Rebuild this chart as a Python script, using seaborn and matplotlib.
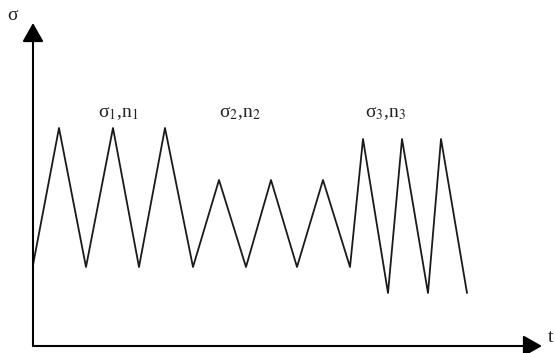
import matplotlib
matplotlib.use("Agg")
import matplotlib.pyplot as plt
import seaborn as sns
import pandas as pd

# Loading history (time t, stress sigma)
t_vals = [0, 26, 53, 80, 106, 132, 160, 186, 213, 238, 264, 290, 317, 330, 355, 369, 395, 408, 434]
sigma_vals = [81, 218, 79, 218, 79, 218, 79, 166, 79, 166, 79, 166, 79, 207, 53, 207, 53, 207, 53]

block_labels = ["σ$_1$,n$_1$", "σ$_2$,n$_2$", "σ$_3$,n$_3$"]
block_label_t = [85, 207, 353]
block_label_sigma = 233

sns.set_style("white")
plt.rcParams["mathtext.fontset"] = "stix"
plt.rcParams["font.family"] = ["Liberation Serif", "DejaVu Serif"]

fig = plt.figure(figsize=(5.55, 3.53), dpi=100)
ax = fig.add_axes([0, 0, 1, 1])
ax.set_xlim(-33, 522)
ax.set_ylim(-7, 346)
ax.axis("off")

df = pd.DataFrame({"t": t_vals, "sigma": sigma_vals})
sns.lineplot(data=df, x="t", y="sigma", sort=False, ax=ax, color="#1a1a1a", lw=1.3)

arrow_style = "-|>,head_length=1.15,head_width=0.65"
ax.annotate("", xy=(0, 323), xytext=(0, 0),
            arrowprops=dict(arrowstyle=arrow_style, mutation_scale=10, color="black",
                            lw=1.5, shrinkA=0, shrinkB=0))
ax.annotate("", xy=(509, 0), xytext=(0, 0),
            arrowprops=dict(arrowstyle=arrow_style, mutation_scale=10, color="black",
                            lw=1.5, shrinkA=0, shrinkB=0))

ax.text(-21, 331, "σ", fontsize=14, ha="center", va="center", color="#222")
ax.text(515, 8, "t", fontsize=14, ha="left", va="center", color="#222")

for lab, tx in zip(block_labels, block_label_t):
    ax.text(tx, block_label_sigma, lab, fontsize=14, ha="center", va="center", color="#222")

fig.savefig("out.png", dpi=100)
